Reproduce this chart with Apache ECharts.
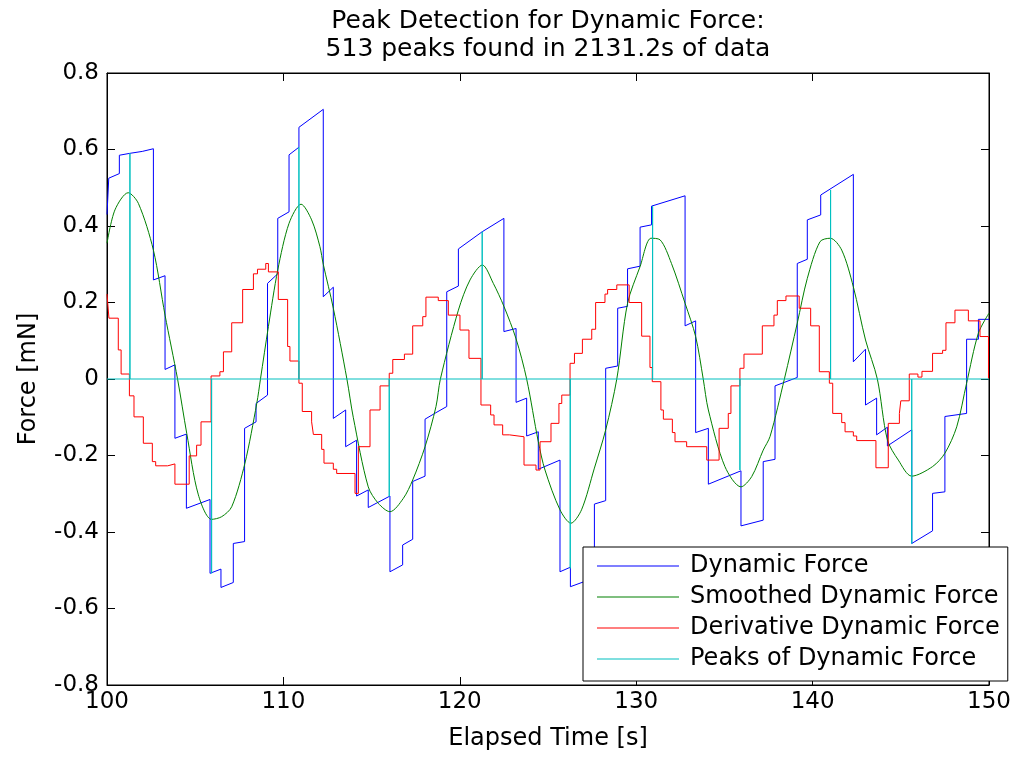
<!DOCTYPE html>
<html>
<head>
<meta charset="utf-8">
<script src="https://cdn.jsdelivr.net/npm/echarts@6/dist/echarts.min.js"></script>
<style>html,body{margin:0;padding:0;background:#fff}#c{width:1016px;height:757px}</style>
</head>
<body>
<div id="c"></div>
<script>
const titleLines = ['Peak Detection for Dynamic Force:', '513 peaks found in 2131.2s of data'];
const xName = 'Elapsed Time [s]';
const yName = 'Force [mN]';
const xTickLabels = ['100', '110', '120', '130', '140', '150'];
const yTickLabels = ['-0.8', '-0.6', '-0.4', '-0.2', '0', '0.2', '0.4', '0.6', '0.8'];
const seriesNames = ['Dynamic Force', 'Smoothed Dynamic Force', 'Derivative Dynamic Force', 'Peaks of Dynamic Force'];

// Dynamic force (stepped / ramped raw signal)
const dynT = [100.0, 100.1, 100.7, 100.7, 101.3, 102.0, 102.63, 102.63, 103.29, 103.29, 103.85, 103.85, 104.5, 104.5, 105.84, 105.84, 106.46, 106.46, 107.16, 107.16, 107.8, 107.8, 108.45, 108.45, 109.1, 109.1, 109.68, 109.68, 110.32, 110.32, 110.88, 110.88, 112.26, 112.26, 112.83, 112.83, 113.53, 113.53, 114.15, 114.15, 114.81, 114.81, 116.04, 116.04, 116.76, 116.76, 117.33, 117.33, 118.03, 118.03, 118.65, 119.26, 119.26, 119.92, 119.92, 121.27, 122.5, 122.5, 123.19, 123.19, 123.79, 123.79, 124.45, 124.45, 125.68, 125.68, 126.27, 126.27, 127.63, 127.63, 128.27, 128.27, 128.95, 128.95, 129.51, 129.51, 130.22, 130.22, 130.87, 130.87, 132.77, 132.77, 133.37, 133.37, 134.09, 134.09, 135.94, 135.94, 137.2, 137.2, 137.87, 137.87, 139.13, 139.13, 139.7, 139.7, 140.46, 140.46, 142.31, 142.31, 143.0, 143.0, 143.63, 143.63, 144.24, 144.24, 145.62, 145.62, 146.8, 146.8, 147.5, 147.5, 148.73, 148.73, 149.4, 149.4, 150.0];
const dynV = [0.43, 0.525, 0.537, 0.585, 0.59, 0.595, 0.602, 0.259, 0.27, 0.025, 0.037, -0.155, -0.144, -0.338, -0.315, -0.508, -0.497, -0.545, -0.532, -0.43, -0.425, -0.129, -0.112, -0.064, -0.042, 0.25, 0.275, 0.42, 0.437, 0.586, 0.606, 0.658, 0.705, 0.215, 0.24, -0.103, -0.081, -0.177, -0.16, -0.306, -0.29, -0.336, -0.306, -0.504, -0.486, -0.434, -0.419, -0.268, -0.254, -0.105, -0.088, -0.072, 0.228, 0.243, 0.34, 0.385, 0.42, 0.124, 0.132, -0.061, -0.05, -0.149, -0.138, -0.236, -0.212, -0.504, -0.492, -0.543, -0.52, -0.327, -0.318, 0.028, 0.034, 0.185, 0.19, 0.288, 0.295, 0.397, 0.403, 0.452, 0.479, 0.139, 0.152, -0.14, -0.129, -0.275, -0.24, -0.384, -0.369, -0.216, -0.21, -0.018, 0.004, 0.302, 0.313, 0.416, 0.429, 0.481, 0.535, 0.045, 0.078, -0.068, -0.05, -0.146, -0.126, -0.175, -0.133, -0.43, -0.397, -0.299, -0.295, -0.098, -0.09, 0.104, 0.104, 0.156, 0.156];

// Smoothed dynamic force
const smoothT = [100.0, 100.45, 101.2, 101.78, 102.63, 103.29, 104.0, 104.52, 105.18, 105.93, 106.5, 107.07, 107.82, 108.49, 108.7, 109.15, 109.68, 110.32, 111.0, 111.6, 112.07, 112.26, 112.83, 113.6, 113.96, 114.81, 115.38, 116.04, 116.8, 117.33, 118.03, 118.65, 118.9, 119.92, 120.58, 121.28, 121.9, 122.5, 123.19, 123.79, 124.45, 124.83, 125.68, 126.3, 126.9, 127.63, 128.27, 128.9, 129.51, 130.22, 130.84, 131.35, 132.0, 132.77, 133.37, 133.8, 134.09, 135.03, 135.94, 136.55, 137.2, 137.59, 138.4, 139.13, 139.7, 140.42, 141.0, 141.65, 142.31, 143.0, 143.67, 144.24, 144.86, 145.62, 146.8, 147.5, 148.17, 148.73, 149.4, 150.0];
const smoothV = [0.355, 0.442, 0.487, 0.459, 0.337, 0.167, 0.0, -0.142, -0.303, -0.367, -0.36, -0.334, -0.22, -0.064, 0.0, 0.137, 0.285, 0.407, 0.457, 0.416, 0.346, 0.3, 0.185, 0.0, -0.1, -0.282, -0.325, -0.347, -0.312, -0.264, -0.177, -0.072, 0.0, 0.18, 0.259, 0.298, 0.25, 0.19, 0.105, 0.0, -0.164, -0.238, -0.342, -0.377, -0.342, -0.233, -0.133, 0.0, 0.198, 0.294, 0.368, 0.364, 0.302, 0.198, 0.111, 0.0, -0.081, -0.229, -0.282, -0.255, -0.186, -0.15, 0.0, 0.146, 0.263, 0.359, 0.368, 0.337, 0.241, 0.102, 0.0, -0.159, -0.212, -0.254, -0.229, -0.194, -0.125, -0.011, 0.12, 0.172];

// Derivative (step changes: value holds from each time until the next)
const derivT = [100, 100.11, 100.64, 100.8, 101.27, 101.53, 102.06, 102.57, 102.76, 103.44, 103.85, 104.66, 105.08, 105.33, 105.9, 106.4, 106.6, 107.07, 107.69, 108.3, 108.53, 109.0, 109.15, 109.71, 110.24, 110.37, 110.88, 111.07, 111.6, 111.7, 112.17, 112.3, 112.83, 113.02, 114.06, 114.25, 114.91, 115.48, 116.0, 116.2, 116.86, 117.33, 117.9, 118.08, 118.78, 119.35, 120.01, 120.52, 121.2, 121.75, 121.94, 122.43, 122.81, 123.64, 124.32, 124.55, 125.17, 125.62, 125.78, 126.25, 126.5, 126.95, 127.48, 127.7, 128.23, 128.38, 128.9, 129.6, 130.31, 130.78, 130.91, 131.4, 131.54, 132.05, 132.2, 132.86, 134.0, 134.7, 135.22, 135.37, 135.88, 136.11, 137.15, 137.81, 138.0, 138.49, 139.24, 139.89, 140.38, 140.95, 141.14, 141.65, 141.84, 142.31, 142.5, 143.59, 144.29, 144.92, 145.0, 145.48, 145.97, 146.2, 146.8, 147.37, 147.56, 148.07, 148.83, 149.49, 149.97, 150];
const derivV = [0.222, 0.159, 0.076, 0.013, -0.044, -0.099, -0.168, -0.216, -0.227, -0.222, -0.275, -0.201, -0.173, -0.112, 0.008, 0.019, 0.071, 0.147, 0.234, 0.275, 0.287, 0.302, 0.28, 0.208, 0.085, 0.047, -0.011, -0.085, -0.112, -0.145, -0.184, -0.22, -0.236, -0.247, -0.299, -0.177, -0.081, -0.018, 0.015, 0.051, 0.065, 0.139, 0.163, 0.214, 0.205, 0.167, 0.128, 0.054, -0.068, -0.094, -0.12, -0.146, -0.151, -0.225, -0.238, -0.164, -0.116, -0.064, -0.042, 0.041, 0.067, 0.104, 0.13, 0.2, 0.222, 0.234, 0.246, 0.2, 0.112, 0.03, -0.007, -0.081, -0.105, -0.14, -0.164, -0.177, -0.212, -0.129, -0.09, -0.018, 0.028, 0.065, 0.139, 0.167, 0.205, 0.217, 0.185, 0.139, 0.019, -0.011, -0.09, -0.114, -0.138, -0.149, -0.161, -0.232, -0.116, -0.09, -0.057, 0.013, 0.005, 0.02, 0.067, 0.075, 0.147, 0.18, 0.152, 0.111, 0, 0];

// Detected peaks (spikes from the zero baseline)
const peakT = [101.3, 105.93, 110.88, 116.0, 121.27, 126.26, 130.93, 135.88, 141.02, 145.62];
const peakV = [0.59, -0.508, 0.606, -0.307, 0.385, -0.495, 0.452, -0.238, 0.494, -0.43];
const baseT = [100, 150];

const zip = (a, b) => a.map((t, i) => [t, b[i]]);
const peakData = [[baseT[0], 0]];
peakT.forEach((t, i) => { peakData.push([t, 0], [t, peakV[i]], [t, 0]); });
peakData.push([baseT[1], 0]);

const FONT = 'DejaVu Sans';
const xFmt = v => xTickLabels.find(s => Math.abs(parseFloat(s) - v) < 1e-6) || '';
const yFmt = v => yTickLabels.find(s => Math.abs(parseFloat(s) - v) < 1e-6) || '';

const axisCommon = {
  axisLine: { show: true, onZero: false, lineStyle: { color: '#000', width: 1 } },
  axisTick: { show: true, inside: true, length: 8, lineStyle: { color: '#000', width: 1 } },
  splitLine: { show: false },
  minorTick: { show: false },
  nameMoveOverlap: false
};
const nameStyle = { color: '#000', fontFamily: FONT, fontSize: 24 };
const labelStyle = { color: '#000', fontFamily: FONT, fontSize: 23 };

const chart = echarts.init(document.getElementById('c'), null, { renderer: 'canvas' });
chart.setOption({
  animation: false,
  backgroundColor: '#fff',
  title: {
    text: titleLines.join('\n'),
    left: 548, top: 7, textAlign: 'center', padding: 0,
    textStyle: { fontFamily: FONT, fontSize: 25, fontWeight: 'normal', color: '#000', lineHeight: 28 }
  },
  grid: {
    left: 107, right: 27, top: 73, bottom: 72,
    show: true, borderColor: '#000', borderWidth: 1, backgroundColor: '#fff',
    containLabel: false, outerBoundsMode: 'none'
  },
  xAxis: [
    Object.assign({
      type: 'value', min: 100, max: 150, interval: 10, position: 'bottom',
      axisLabel: Object.assign({ show: true, margin: 6, formatter: xFmt }, labelStyle),
      name: xName, nameLocation: 'middle', nameGap: 42, nameTextStyle: nameStyle
    }, axisCommon),
    Object.assign({
      type: 'value', min: 100, max: 150, interval: 10, position: 'top',
      axisLabel: { show: false }
    }, axisCommon)
  ],
  yAxis: [
    Object.assign({
      type: 'value', min: -0.8, max: 0.8, interval: 0.2, position: 'left',
      axisLabel: Object.assign({ show: true, margin: 8, formatter: yFmt }, labelStyle),
      name: yName, nameLocation: 'middle', nameGap: 66, nameTextStyle: nameStyle
    }, axisCommon),
    Object.assign({
      type: 'value', min: -0.8, max: 0.8, interval: 0.2, position: 'right',
      axisLabel: { show: false }
    }, axisCommon)
  ],
  legend: {
    orient: 'vertical', left: 583, top: 547,
    padding: [7, 8, 10, 14], itemGap: 7, itemWidth: 82, itemHeight: 1,
    icon: 'rect', backgroundColor: '#fff', borderColor: '#000', borderWidth: 1, borderRadius: 0,
    textStyle: { color: '#000', fontFamily: FONT, fontSize: 24, lineHeight: 24, padding: [0, 0, 0, 6] },
    data: seriesNames, selectedMode: false, z: 10
  },
  series: [
    { name: seriesNames[0], type: 'line', data: zip(dynT, dynV), symbol: 'none',
      lineStyle: { color: '#0000ff', width: 1 }, itemStyle: { color: '#0000ff' }, z: 2 },
    { name: seriesNames[1], type: 'line', data: zip(smoothT, smoothV), symbol: 'none', smooth: 0.3,
      lineStyle: { color: '#008000', width: 1 }, itemStyle: { color: '#008000' }, z: 3 },
    { name: seriesNames[2], type: 'line', data: zip(derivT, derivV), symbol: 'none', step: 'end',
      lineStyle: { color: '#ff0000', width: 1 }, itemStyle: { color: '#ff0000' }, z: 4 },
    { name: seriesNames[3], type: 'line', data: peakData, symbol: 'none',
      lineStyle: { color: '#00bfbf', width: 1 }, itemStyle: { color: '#00bfbf' }, z: 5 }
  ]
});
</script>
</body>
</html>
